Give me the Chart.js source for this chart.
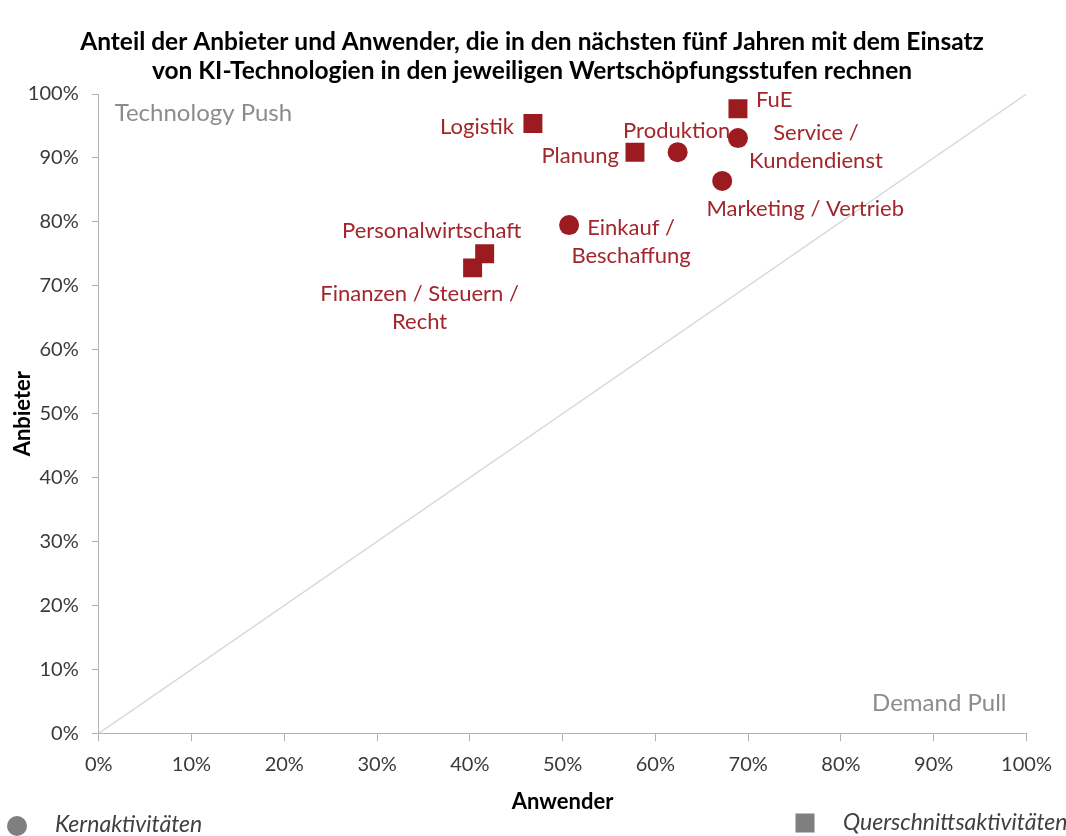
<!DOCTYPE html>
<html><head><meta charset="utf-8">
<script src="https://cdn.jsdelivr.net/npm/chart.js@4"></script>
<style>html,body{margin:0;padding:0;background:#fff}#wrap{width:1066px;height:836px;position:relative}</style>
</head><body><div id="wrap"><canvas id="c"></canvas></div>
<script>
// ---- data ----
const titleLines = ['Anteil der Anbieter und Anwender, die in den nächsten fünf Jahren mit dem Einsatz',
                    'von KI-Technologien in den jeweiligen Wertschöpfungsstufen rechnen'];
const xAxisTitle = 'Anwender';
const yAxisTitle = 'Anbieter';
const kernLabels = ['Produktion', 'Service /\nKundendienst', 'Marketing / Vertrieb', 'Einkauf /\nBeschaffung'];
const kernAnwender = [62.4, 68.9, 67.2, 50.7];
const kernAnbieter = [90.9, 93.1, 86.4, 79.5];
const querLabels = ['Logistik', 'FuE', 'Planung', 'Personalwirtschaft', 'Finanzen / Steuern /\nRecht'];
const querAnwender = [46.8, 68.9, 57.8, 41.6, 40.3];
const querAnbieter = [95.4, 97.7, 90.9, 75.0, 72.8];
const diagonalX = [0, 100];
const diagonalY = [0, 100];
const tickValues = [0, 10, 20, 30, 40, 50, 60, 70, 80, 90, 100];
const legendLabels = ['Kernaktivitäten', 'Querschnittsaktivitäten'];
const quadrantLabels = ['Technology Push', 'Demand Pull'];

// ---- styles ----
const FONT = 'Lato, "Open Sans", sans-serif';
const RED = '#9b1b21';
const LABEL_RED = '#a2262c';
const labelStyle = {
  'Produktion': {align: 'center', dx: -1, dy: -21},
  'Service /\nKundendienst': {align: 'center', dx: 78, dy: -5},
  'Marketing / Vertrieb': {align: 'center', dx: 83, dy: 27.5},
  'Einkauf /\nBeschaffung': {align: 'center', dx: 62, dy: 3},
  'Logistik': {align: 'right', dx: -19, dy: 3},
  'FuE': {align: 'left', dx: 18, dy: -9},
  'Planung': {align: 'right', dx: -16, dy: 4},
  'Personalwirtschaft': {align: 'center', dx: -53, dy: -23},
  'Finanzen / Steuern /\nRecht': {align: 'center', dx: -53, dy: 26}
};

const annotPlugin = {
  id: 'annot',
  afterLayout(chart) {
    // centre the title block on the page like the original
    if (chart.titleBlock) { chart.titleBlock.left = 0; chart.titleBlock.right = 1064; }
  },
  afterDatasetsDraw(chart) {
    const ctx = chart.ctx;
    ctx.save();
    ctx.font = '22px ' + FONT;
    ctx.fillStyle = LABEL_RED;
    ctx.textBaseline = 'middle';
    [0, 1].forEach(di => {
      const meta = chart.getDatasetMeta(di);
      const labels = di === 0 ? kernLabels : querLabels;
      meta.data.forEach((pt, i) => {
        const lab = labels[i];
        const st = labelStyle[lab];
        ctx.textAlign = st.align;
        lab.split('\n').forEach((line, li) => {
          ctx.fillText(line, pt.x + st.dx, pt.y + st.dy + li * 28);
        });
      });
    });
    // quadrant labels
    const a = chart.chartArea;
    ctx.fillStyle = '#8c8c8c';
    ctx.font = '24px ' + FONT;
    ctx.textAlign = 'left';
    ctx.fillText(quadrantLabels[0], a.left + 16, a.top + 19);
    ctx.textAlign = 'right';
    ctx.fillText(quadrantLabels[1], a.right - 20, a.bottom - 30);
    // legend
    ctx.fillStyle = '#7f7f7f';
    ctx.beginPath();
    ctx.arc(17, 826, 10, 0, Math.PI * 2);
    ctx.fill();
    ctx.fillRect(795.5, 813.5, 19, 19);
    ctx.fillStyle = '#404040';
    ctx.font = 'italic 23px ' + FONT;
    ctx.textAlign = 'left';
    ctx.fillText(legendLabels[0], 55, 825);
    ctx.fillText(legendLabels[1], 843, 823);
    ctx.restore();
  }
};

const axisColor = '#b3b3b3';
const tickFont = {family: FONT, size: 20};

new Chart(document.getElementById('c'), {
  type: 'scatter',
  data: {
    datasets: [
      {
        label: legendLabels[0],
        data: kernAnwender.map((x, i) => ({x: x, y: kernAnbieter[i]})),
        pointStyle: 'circle', pointRadius: 10, pointHoverRadius: 10,
        backgroundColor: RED, borderColor: RED, borderWidth: 0
      },
      {
        label: legendLabels[1],
        data: querAnwender.map((x, i) => ({x: x, y: querAnbieter[i]})),
        pointStyle: 'rect', pointRadius: 13.4, pointHoverRadius: 13.4,
        backgroundColor: RED, borderColor: RED, borderWidth: 0
      },
      {
        type: 'line',
        label: 'diag',
        data: diagonalX.map((x, i) => ({x: x, y: diagonalY[i]})),
        borderColor: '#d9d9d9', borderWidth: 1.5, pointRadius: 0, fill: false
      }
    ]
  },
  options: {
    responsive: true,
    maintainAspectRatio: false,
    animation: false,
    events: [],
    layout: {padding: {left: 0, right: 39.5, top: 0, bottom: 0}},
    plugins: {
      legend: {display: false},
      tooltip: {enabled: false},
      title: {
        display: true,
        text: titleLines,
        color: '#000',
        font: {family: FONT, size: 24.5, weight: 'bold', lineHeight: 29 / 24.5},
        padding: {top: 27.5, bottom: 8.5}
      }
    },
    scales: {
      x: {
        type: 'linear', min: 0, max: 100,
        afterBuildTicks: s => { s.ticks = tickValues.map(v => ({value: v})); },
        afterFit: s => { s.height = 836 - 733.3; },
        ticks: {callback: v => v + '%', font: tickFont, color: '#3a3a3a', padding: 11, maxRotation: 0, autoSkip: false},
        grid: {display: true, drawOnChartArea: false, drawTicks: true, tickLength: 8, color: axisColor},
        border: {display: true, color: axisColor, width: 1},
        title: {display: true, text: xAxisTitle, color: '#000', font: {family: FONT, size: 22, weight: 'bold', lineHeight: 1.2}, padding: {top: 0, bottom: 21}}
      },
      y: {
        type: 'linear', min: 0, max: 100,
        afterBuildTicks: s => { s.ticks = tickValues.map(v => ({value: v})); },
        afterFit: s => { s.width = 98.7; },
        ticks: {callback: v => v + '%', font: tickFont, color: '#3a3a3a', padding: 13, autoSkip: false},
        grid: {display: true, drawOnChartArea: false, drawTicks: true, tickLength: 7, color: axisColor},
        border: {display: true, color: axisColor, width: 1},
        title: {display: true, text: yAxisTitle, color: '#000', font: {family: FONT, size: 22, weight: 'bold', lineHeight: 1.2}, padding: {top: 10, bottom: 0}}
      }
    }
  },
  plugins: [annotPlugin]
});
</script>
</body></html>
